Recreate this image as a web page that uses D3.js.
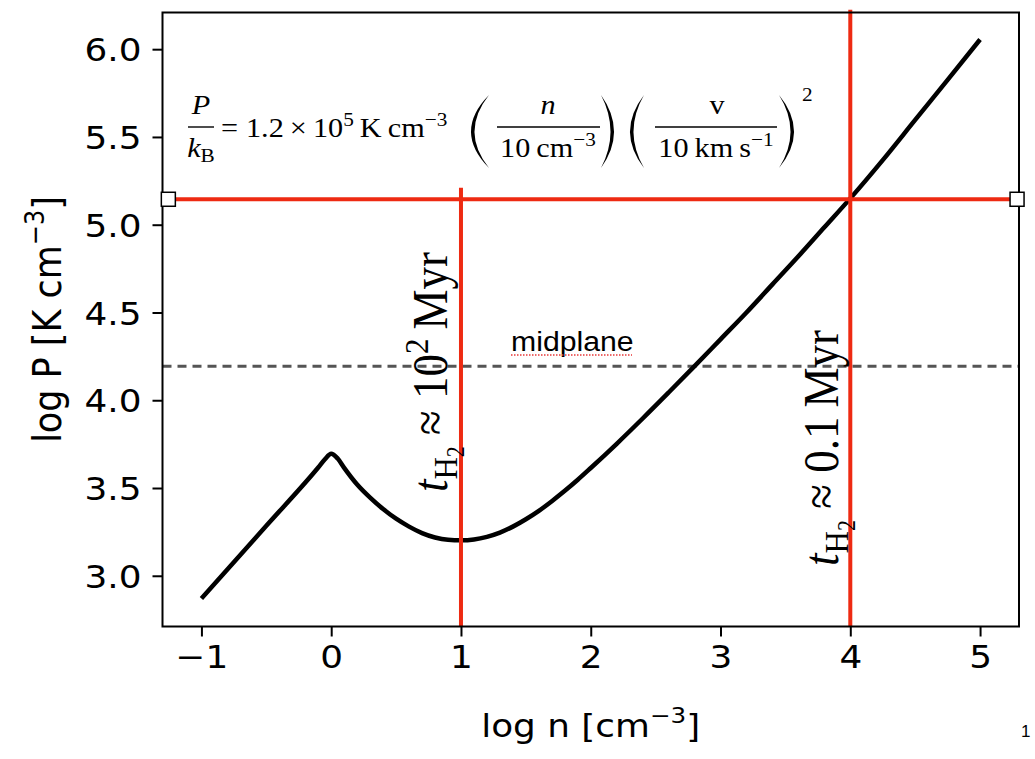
<!DOCTYPE html>
<html>
<head>
<meta charset="utf-8">
<script src="https://cdn.jsdelivr.net/npm/d3@7"></script>
<style>
  body { margin: 0; background: #fff; }
</style>
</head>
<body>
<div id="chart"></div>
<script>

// pressure curve, log n [cm^-3] vs log P [K cm^-3]
var logN = [-1.0, -0.5, -0.1, -0.05, 0.0, 0.05, 0.1, 0.2, 0.3, 0.4, 0.5, 0.6, 0.7, 0.8, 0.9, 1.0,
            1.1, 1.2, 1.3, 1.4, 1.5, 1.6, 1.7, 1.8, 1.9, 2.0, 2.2, 2.4, 2.6, 2.8, 3.0, 3.2,
            3.4, 3.6, 3.8, 4.0, 4.25, 4.5, 4.75, 5.0];
var logP = [2.87, 3.285, 3.617, 3.662, 3.695, 3.668, 3.615, 3.52, 3.445, 3.38, 3.325, 3.28, 3.243, 3.218, 3.205, 3.202,
            3.207, 3.222, 3.246, 3.28, 3.322, 3.37, 3.425, 3.484, 3.547, 3.614, 3.752, 3.896, 4.044, 4.194, 4.347, 4.50,
            4.66, 4.82, 4.985, 5.15, 5.368, 5.597, 5.825, 6.055];

var xTicks = [-1, 0, 1, 2, 3, 4, 5];
var yTicks = [3.0, 3.5, 4.0, 4.5, 5.0, 5.5, 6.0];

var midplaneP = 4.194;          // dashed line
var crossP = 5.145;             // red horizontal line
var crossSpan = [-1.255, 5.285];
var markN = [1, 4];             // red vertical lines
var markTop = [5.21, 6.225];
var markLabels = ["10", "0.1"];

// the picture is slightly wider than tall
var SX = 1.12;

function init() {
	drawChart();
}

function drawChart() {

	var width = 1035, height = 759;
	var left = 162.5, right = 1019, top = 12.5, bottom = 626.5;

	var svg = d3.select("#chart")
		.append("svg")
		.attr("width", width)
		.attr("height", height);

	var x = d3.scaleLinear().domain([-1.3, 5.3]).range([left, right]);
	var y = d3.scaleLinear().domain([2.711, 6.209]).range([bottom, top]);

	var sans = "'DejaVu Sans', sans-serif";
	var serif = "'Liberation Serif', 'Times New Roman', serif";

	// axes
	var xAxis = svg.append("g")
		.attr("transform", "translate(0," + bottom + ")")
		.call(d3.axisBottom(x).tickValues(xTicks).tickFormat(d3.format("d")).tickSize(10).tickPadding(0));
	xAxis.select(".domain").remove();
	xAxis.selectAll(".tick line").attr("stroke", "#000").attr("stroke-width", 2);
	xAxis.selectAll(".tick text")
		.attr("y", 0).attr("dy", null)
		.attr("transform", "translate(0,41) scale(" + SX + ",1)")
		.style("font-family", sans)
		.style("font-size", "32px")
		.attr("fill", "#000");

	var yAxis = svg.append("g")
		.attr("transform", "translate(" + left + ",0)")
		.call(d3.axisLeft(y).tickValues(yTicks).tickFormat(d3.format(".1f")).tickSize(10).tickPadding(0));
	yAxis.select(".domain").remove();
	yAxis.selectAll(".tick line").attr("stroke", "#000").attr("stroke-width", 2);
	yAxis.selectAll(".tick text")
		.attr("x", 0).attr("dy", "0.36em")
		.attr("transform", "translate(-21,0) scale(" + SX + ",1)")
		.style("font-family", sans)
		.style("font-size", "32px")
		.attr("fill", "#000");

	// axis labels
	var xl = svg.append("text")
		.attr("transform", "translate(" + ((left + right) / 2) + ",737) scale(" + SX + ",1)")
		.attr("text-anchor", "middle")
		.style("font-family", sans)
		.style("font-size", "32px");
	xl.append("tspan").text("log n [cm");
	xl.append("tspan").attr("dy", -14).style("font-size", "22px").text("\u22123");
	xl.append("tspan").attr("dy", 14).text("]");

	var yl = svg.append("text")
		.attr("transform", "translate(61," + ((top + bottom) / 2) + ") scale(" + SX + ",1) rotate(-90)")
		.attr("text-anchor", "middle")
		.style("font-family", sans)
		.style("font-size", "35px");
	yl.append("tspan").text("log P [K cm");
	yl.append("tspan").attr("dy", -15).style("font-size", "24px").text("\u22123");
	yl.append("tspan").attr("dy", 15).text("]");

	// midplane dashed line
	svg.append("line")
		.attr("x1", x(-1.3)).attr("x2", x(5.3))
		.attr("y1", y(midplaneP)).attr("y2", y(midplaneP))
		.attr("stroke", "#555")
		.attr("stroke-width", 3)
		.attr("stroke-dasharray", "9,6");

	// the curve
	var pts = logN.map(function(d, i) { return [d, logP[i]]; });
	var line = d3.line()
		.x(function(d) { return x(d[0]); })
		.y(function(d) { return y(d[1]); })
		.curve(d3.curveMonotoneX);

	svg.append("path")
		.datum(pts)
		.attr("d", line)
		.attr("fill", "none")
		.attr("stroke", "#000")
		.attr("stroke-width", 4.5)
		.attr("stroke-linejoin", "round");

	// red markers
	var red = "#ee2a12";
	svg.selectAll("line.vmark")
		.data(markN)
		.enter()
		.append("line")
		.attr("class", "vmark")
		.attr("x1", function(d) { return x(d); })
		.attr("x2", function(d) { return x(d); })
		.attr("y1", function(d, i) { return y(markTop[i]); })
		.attr("y2", bottom)
		.attr("stroke", red)
		.attr("stroke-width", 4);

	svg.append("line")
		.attr("x1", x(crossSpan[0])).attr("x2", x(crossSpan[1]))
		.attr("y1", y(crossP)).attr("y2", y(crossP))
		.attr("stroke", red)
		.attr("stroke-width", 4);

	// frame
	svg.append("rect")
		.attr("x", left).attr("y", top)
		.attr("width", right - left).attr("height", bottom - top)
		.attr("fill", "none")
		.attr("stroke", "#000")
		.attr("stroke-width", 2);

	// line end handles
	svg.selectAll("rect.handle")
		.data(crossSpan)
		.enter()
		.append("rect")
		.attr("class", "handle")
		.attr("x", function(d) { return x(d) - 7; })
		.attr("y", y(crossP) - 7)
		.attr("width", 14).attr("height", 14)
		.attr("fill", "#fff")
		.attr("stroke", "#000")
		.attr("stroke-width", 1.5);

	// midplane label
	svg.append("text")
		.attr("transform", "translate(511,351) scale(" + SX + ",1)")
		.style("font-family", "'Liberation Sans', Arial, sans-serif")
		.style("font-size", "27px")
		.text("midplane");
	svg.append("line")
		.attr("x1", 511).attr("x2", 632)
		.attr("y1", 355).attr("y2", 355)
		.attr("stroke", "#e8393a")
		.attr("stroke-width", 1.5)
		.attr("stroke-dasharray", "1.5,1.5");

	// rotated time labels next to the red lines
	var labelPos = [[447, 372], [838, 448]];
	markLabels.forEach(function(val, i) {
		var t = svg.append("text")
			.attr("transform", "translate(" + labelPos[i][0] + "," + labelPos[i][1] + ") scale(" + SX + ",1) rotate(-90)")
			.attr("text-anchor", "middle")
			.style("font-family", serif)
			.style("font-size", "45px");
		t.append("tspan").style("font-style", "italic").text("t");
		t.append("tspan").attr("dy", 9).style("font-size", "31px").text("H");
		t.append("tspan").attr("dy", 6).style("font-size", "22px").text("2");
		t.append("tspan").attr("dy", -15).text(" \u2248 " + val);
		if (i == 0) {
			t.append("tspan").attr("dy", -17).style("font-size", "31px").text("2");
			t.append("tspan").attr("dy", 17).text("\u2009Myr");
		} else {
			t.append("tspan").text("\u2009Myr");
		}
	});

	drawFormula(svg, serif);

	// page number
	svg.append("text")
		.attr("x", 1021).attr("y", 737)
		.style("font-family", "'Liberation Sans', Arial, sans-serif")
		.style("font-size", "17px")
		.text("1");
}

function drawFormula(svg, serif) {

	var fs = 27, sup = 19;
	var g = svg.append("g").style("font-family", serif).style("font-size", fs + "px");

	var put = function(cx, cy, anchor) {
		return g.append("text")
			.attr("transform", "translate(" + cx + "," + cy + ") scale(" + SX + ",1)")
			.attr("text-anchor", anchor);
	};

	var bar = function(x1, x2, yy) {
		g.append("line")
			.attr("x1", x1).attr("x2", x2)
			.attr("y1", yy).attr("y2", yy)
			.attr("stroke", "#000")
			.attr("stroke-width", 1.4);
	};

	// crescent shaped big bracket
	var paren = function(xEnd, xMid, top, bot) {
		var mid = (top + bot) / 2;
		var c1 = 2 * xMid - xEnd;
		var c2 = c1 + (xMid < xEnd ? 7 : -7);
		g.append("path")
			.attr("d", "M" + xEnd + "," + top + " Q" + c1 + "," + mid + " " + xEnd + "," + bot +
				" Q" + c2 + "," + mid + " " + xEnd + "," + top + "Z")
			.attr("fill", "#000");
	};

	// P / k_B
	put(201, 114, "middle").style("font-style", "italic").text("P");
	bar(188, 214, 127);
	var kb = put(201, 157, "middle");
	kb.append("tspan").style("font-style", "italic").text("k");
	kb.append("tspan").attr("dy", 5).style("font-size", sup + "px").text("B");

	put(221, 137, "start").text("=");

	var c = put(246, 137, "start");
	c.append("tspan").text("1.2\u2009\u00d7\u200910");
	c.append("tspan").attr("dy", -11).style("font-size", sup + "px").text("5");
	c.append("tspan").attr("dy", 11).text("\u2009K\u2009cm");
	c.append("tspan").attr("dy", -11).style("font-size", sup + "px").text("\u22123");

	// (n / 10 cm^-3)
	paren(489, 471, 95, 168);
	put(548, 114, "middle").style("font-style", "italic").text("n");
	bar(497, 600, 127);
	var d1 = put(548, 157, "middle");
	d1.append("tspan").text("10\u2009cm");
	d1.append("tspan").attr("dy", -11).style("font-size", sup + "px").text("\u22123");
	paren(601, 614, 95, 168);

	// (v / 10 km s^-1)^2
	paren(644, 630, 95, 168);
	put(717, 114, "middle").text("v");
	bar(655, 777, 127);
	var d2 = put(716, 157, "middle");
	d2.append("tspan").text("10\u2009km\u2009s");
	d2.append("tspan").attr("dy", -11).style("font-size", sup + "px").text("\u22121");
	paren(779, 794, 95, 168);
	put(802, 101, "start").style("font-size", sup + "px").text("2");
}

init();
</script>
</body>
</html>
